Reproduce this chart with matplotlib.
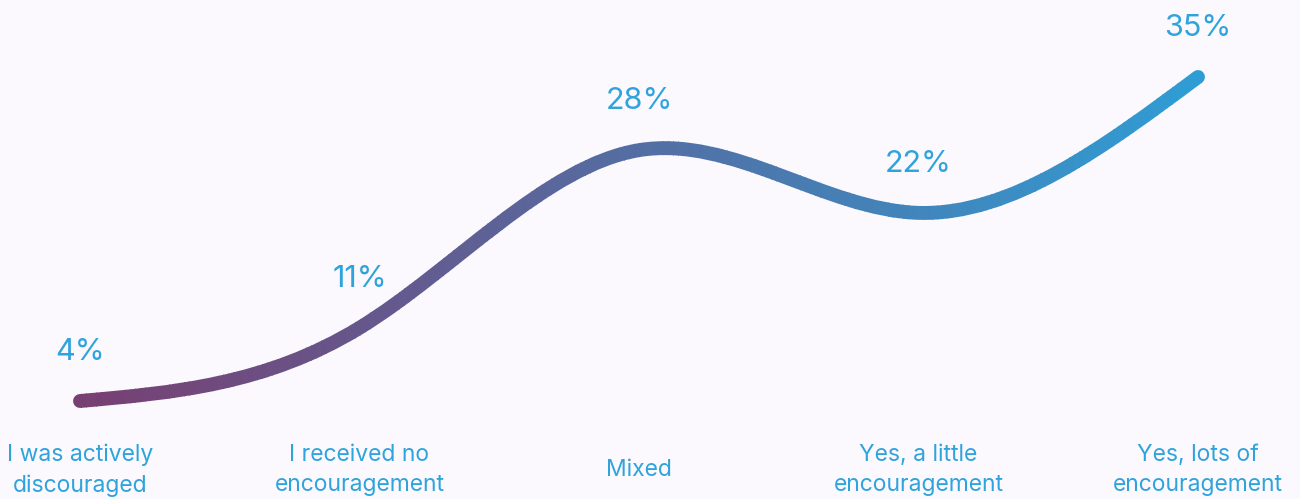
import numpy as np
import matplotlib.pyplot as plt
from matplotlib.path import Path
from matplotlib.patches import PathPatch, Rectangle
from matplotlib.colors import LinearSegmentedColormap

categories = ['I was actively\ndiscouraged', 'I received no\nencouragement', 'Mixed',
              'Yes, a little\nencouragement', 'Yes, lots of\nencouragement']
values = [4, 11, 28, 22, 35]
labels = ['4%', '11%', '28%', '22%', '35%']

plt.rcParams['font.family'] = ['Inter', 'DejaVu Sans']
bg = '#fbf9fd'
text_blue = '#2ea3dc'
cmap = LinearSegmentedColormap.from_list('grad', ['#7a3d70', '#2d9fd6'])

fig = plt.figure(figsize=(13, 4.99), dpi=100, facecolor=bg)
ax = fig.add_axes([0, 0, 1, 1])
ax.set_facecolor(bg)

# pixel -> data mapping: x index 0 at 80px, 4 at 1198px; y 4 at 401px, 35 at 77px
xs = 279.5
ax.set_xlim(-80 / xs, 4 + 102 / xs)
ys = 324 / 31
y0 = 401 + 4 * ys
ax.set_ylim((y0 - 499) / ys, y0 / ys)
ax.axis('off')

# natural cubic spline through the points, drawn as bezier segments
y = np.array(values, dtype=float)
n_pts = len(y)
A = np.zeros((n_pts, n_pts))
b = np.zeros(n_pts)
A[0, 0] = A[-1, -1] = 1
for i in range(1, n_pts - 1):
    A[i, i - 1:i + 2] = [1, 4, 1]
    b[i] = 6 * (y[i + 1] - 2 * y[i] + y[i - 1])
M = np.linalg.solve(A, b)
d = np.zeros(n_pts)
for i in range(n_pts - 1):
    d[i] = (y[i + 1] - y[i]) - (2 * M[i] + M[i + 1]) / 6
d[-1] = (y[-1] - y[-2]) + (M[-2] + 2 * M[-1]) / 6

verts = [(0, y[0])]
codes = [Path.MOVETO]
for i in range(n_pts - 1):
    verts += [(i + 1 / 3, y[i] + d[i] / 3),
              (i + 2 / 3, y[i + 1] - d[i + 1] / 3),
              (i + 1, y[i + 1])]
    codes += [Path.CURVE4] * 3
path = Path(verts, codes)

# gradient along x: draw the same path in thin vertical strips
n = 240
edges = np.linspace(-0.1, 4.1, n + 1)
for k in range(n):
    t = k / (n - 1)
    patch = PathPatch(path, fill=False, edgecolor=cmap(t), lw=10,
                      capstyle='round', joinstyle='round')
    ax.add_patch(patch)
    left = edges[k] if k > 0 else -1
    right = edges[k + 1] + 0.002 if k < n - 1 else 6
    clip = Rectangle((left, -50), right - left, 200, transform=ax.transData)
    patch.set_clip_path(clip)

for i, (v, lab) in enumerate(zip(values, labels)):
    ax.annotate(lab, (i, v), xytext=(0, 49), textcoords='offset pixels',
                ha='center', va='center', fontsize=22, color=text_blue)

label_y = (y0 - 470) / ys
for i, cat in enumerate(categories):
    ax.text(i, label_y, cat, ha='center', va='center', multialignment='center',
            fontsize=16.5, color=text_blue, linespacing=1.5)

plt.savefig('out.png', dpi=100, facecolor=bg)
